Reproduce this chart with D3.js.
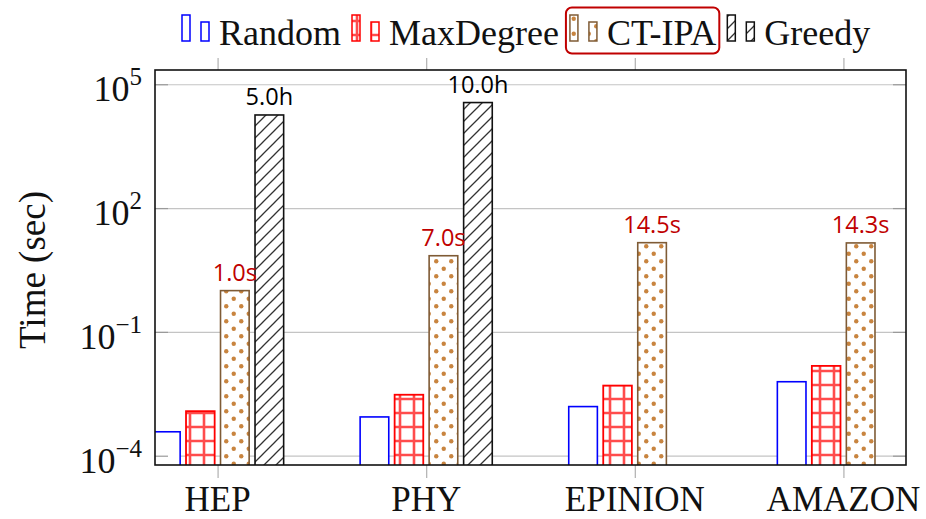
<!DOCTYPE html>
<html>
<head>
<meta charset="utf-8">
<script src="https://cdn.jsdelivr.net/npm/d3@7"></script>
<style>
body { margin: 0; background: #fff; }
text { font-family: "Liberation Serif", "Times New Roman", serif; }
.val { font-family: "Open Sans", "Noto Sans", sans-serif; }
</style>
</head>
<body>
<svg id="chart" width="926" height="519"></svg>
<script>
const categories = ["HEP", "PHY", "EPINION", "AMAZON"]
const seriesNames = ["Random", "MaxDegree", "CT-IPA", "Greedy"]
const randomTime = [3.8e-4, 8.7e-4, 1.55e-3, 6.2e-3]
const maxDegreeTime = [1.2e-3, 3.0e-3, 5.0e-3, 1.5e-2]
const ctIpaTime = [1.0, 7.0, 14.5, 14.3]
const greedyTime = [18000, 36000, null, null]
const ctIpaLabels = ["1.0s", "7.0s", "14.5s", "14.3s"]
const greedyLabels = ["5.0h", "10.0h", null, null]
const yTicks = [1e-4, 1e-1, 1e2, 1e5]
const yExponents = ["\u22124", "\u22121", "2", "5"]

const margin = {left: 155, top: 70, right: 20, bottom: 54}
const W = 926, H = 519
const w = W - margin.left - margin.right
const h = H - margin.top - margin.bottom

const style = {
    "Random":    {stroke: "#0000ff", fill: "#fff", sw: 1.6},
    "MaxDegree": {stroke: "#ff0000", fill: "url(#pGrid)", sw: 1.8},
    "CT-IPA":    {stroke: "#7f5b35", fill: "url(#pDots)", sw: 1.6},
    "Greedy":    {stroke: "#111", fill: "url(#pHatch)", sw: 1.6}
}

const series = [
    {name: "Random", values: randomTime},
    {name: "MaxDegree", values: maxDegreeTime},
    {name: "CT-IPA", values: ctIpaTime, labels: ctIpaLabels, color: "#c00000"},
    {name: "Greedy", values: greedyTime, labels: greedyLabels, color: "#000"}
]

const svg = d3.select("#chart")
const defs = svg.append("defs")

// patterns, in page space like pgfplots
const grid = defs.append("pattern").attr("id", "pGrid")
    .attr("patternUnits", "userSpaceOnUse").attr("width", 14).attr("height", 14)
grid.append("rect").attr("width", 14).attr("height", 14).attr("fill", "#fff")
grid.append("path").attr("d", "M7,0V14M0,7H14")
    .attr("stroke", "#ff0000").attr("stroke-opacity", 0.7).attr("stroke-width", 2.6)

const dots = defs.append("pattern").attr("id", "pDots")
    .attr("patternUnits", "userSpaceOnUse").attr("width", 15).attr("height", 15)
dots.append("rect").attr("width", 15).attr("height", 15).attr("fill", "#fff")
dots.selectAll("circle").data([[3.75, 3.75], [11.25, 11.25]]).join("circle")
    .attr("cx", d => d[0]).attr("cy", d => d[1]).attr("r", 2.2).attr("fill", "#c8843f")

const hatch = defs.append("pattern").attr("id", "pHatch")
    .attr("patternUnits", "userSpaceOnUse").attr("width", 12).attr("height", 12)
hatch.append("rect").attr("width", 12).attr("height", 12).attr("fill", "#fff")
hatch.append("path").attr("d", "M-3,3L3,-3M0,12L12,0M9,15L15,9")
    .attr("stroke", "#333").attr("stroke-width", 1.3)

defs.append("clipPath").attr("id", "plotClip")
    .append("rect").attr("width", w).attr("height", h)

const g = svg.append("g").attr("transform", "translate(" + margin.left + "," + margin.top + ")")

const x = d3.scalePoint().domain(categories).range([0, w]).padding(0.3)
const inner = d3.scaleBand().domain(seriesNames).range([-69, 69])
    .paddingInner(0.17).paddingOuter(0.085)
const y = d3.scaleLog().domain([Math.pow(10, -4.225), Math.pow(10, 5.345)]).range([h, 0])

// grid lines
g.append("g")
    .call(d3.axisLeft(y).tickValues(yTicks).tickSize(-w).tickFormat(""))
    .call(a => a.select(".domain").remove())
    .call(a => a.selectAll("line").attr("stroke", "#c4c4c4").attr("stroke-width", 1.2))

// bars
const bars = g.append("g").attr("clip-path", "url(#plotClip)")
series.forEach(s => {
    const st = style[s.name]
    bars.append("g").selectAll("rect")
        .data(s.values.map((v, i) => ({cat: categories[i], v})).filter(d => d.v != null))
        .join("rect")
        .attr("x", d => x(d.cat) + inner(s.name))
        .attr("width", inner.bandwidth())
        .attr("y", d => y(d.v))
        .attr("height", d => h - y(d.v) + 2)
        .attr("fill", st.fill)
        .attr("stroke", st.stroke)
        .attr("stroke-width", st.sw)
})

// value labels
series.filter(s => s.labels).forEach(s => {
    g.append("g").selectAll("text")
        .data(s.values.map((v, i) => ({cat: categories[i], v, t: s.labels[i]})).filter(d => d.t))
        .join("text")
        .attr("class", "val")
        .attr("x", d => x(d.cat) + inner(s.name) + inner.bandwidth() / 2)
        .attr("y", d => y(d.v) - 10)
        .attr("text-anchor", "middle")
        .attr("font-size", 23.5)
        .attr("fill", s.color)
        .text(d => d.t)
})

// y tick marks (inside, both sides)
const tickCol = "#9a9a9a"
g.append("g")
    .call(d3.axisRight(y).tickValues(yTicks).tickSize(13).tickFormat(""))
    .call(a => a.select(".domain").remove())
    .call(a => a.selectAll("line").attr("stroke", tickCol).attr("stroke-width", 1.2))
g.append("g").attr("transform", "translate(" + w + ",0)")
    .call(d3.axisLeft(y).tickValues(yTicks).tickSize(13).tickFormat(""))
    .call(a => a.select(".domain").remove())
    .call(a => a.selectAll("line").attr("stroke", tickCol).attr("stroke-width", 1.2))

// y tick labels 10^k
const yl = g.append("g").selectAll("text")
    .data(yTicks).join("text")
    .attr("x", -13)
    .attr("y", d => y(d) + 17)
    .attr("text-anchor", "end")
    .attr("font-size", 36)
    .attr("fill", "#111")
yl.append("tspan").text("10")
yl.append("tspan").attr("dy", -16).attr("font-size", 25).text((d, i) => yExponents[i])

// x axis ticks (outside, bottom and top)
g.append("g").attr("transform", "translate(0," + h + ")")
    .call(d3.axisBottom(x).tickSize(13).tickFormat(""))
    .call(a => a.select(".domain").remove())
    .call(a => a.selectAll("line").attr("stroke", "#b0b0b0").attr("stroke-width", 1.2))
g.append("g")
    .call(d3.axisTop(x).tickSize(12).tickFormat(""))
    .call(a => a.select(".domain").remove())
    .call(a => a.selectAll("line").attr("stroke", "#b0b0b0").attr("stroke-width", 1.2))

g.append("g").selectAll("text")
    .data(categories).join("text")
    .attr("x", d => x(d))
    .attr("y", h + 46)
    .attr("text-anchor", "middle")
    .attr("font-size", 35)
    .attr("fill", "#111")
    .text(d => d)

// frame
g.append("rect").attr("width", w).attr("height", h)
    .attr("fill", "none").attr("stroke", "#111").attr("stroke-width", 1.6)

// y label
svg.append("text")
    .attr("transform", "translate(45,270) rotate(-90)")
    .attr("text-anchor", "middle")
    .attr("font-size", 37)
    .attr("fill", "#111")
    .text("Time (sec)")

// legend
const leg = svg.append("g")
let lx = 219
seriesNames.forEach(name => {
    const st = style[name]
    const item = leg.append("g")
    item.append("rect").attr("x", lx - 37).attr("y", 15).attr("width", 8).attr("height", 26)
        .attr("fill", st.fill).attr("stroke", st.stroke).attr("stroke-width", 1.5)
    item.append("rect").attr("x", lx - 18).attr("y", 22).attr("width", 8).attr("height", 19)
        .attr("fill", st.fill).attr("stroke", st.stroke).attr("stroke-width", 1.5)
    const t = item.append("text").attr("x", lx).attr("y", 45)
        .attr("font-size", 36).attr("fill", "#111").text(name)
    const tw = t.node().getComputedTextLength()
    if (name === "CT-IPA") {
        leg.append("rect").attr("x", lx - 41).attr("y", 7.5)
            .attr("width", tw + 44).attr("height", 46).attr("rx", 6)
            .attr("fill", "none").attr("stroke", "#c00000").attr("stroke-width", 2)
    }
    lx += tw + 48
})
</script>
</body>
</html>
